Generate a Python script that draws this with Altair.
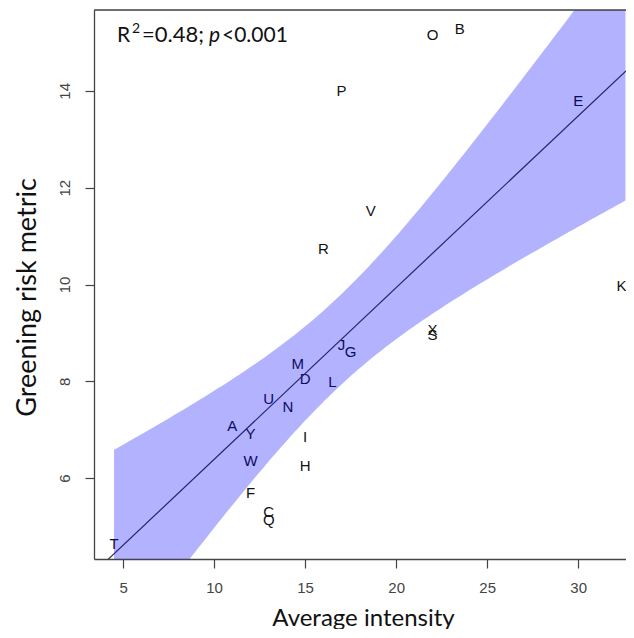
import altair as alt
import numpy as np
import pandas as pd

# ---- data ----
labels = list("OBPEVRKXSJGMDLUNAYIWHFCQT")
x_vals = [22.0, 23.5, 17.0, 30.0, 18.6, 16.0, 32.6, 22.0, 22.0, 17.0, 17.5, 14.6, 15.0,
          16.5, 13.0, 14.05, 11.0, 12.0, 15.0, 12.0, 15.0, 12.0, 13.0, 13.0, 4.5]
y_vals = [15.16, 15.28, 14.0, 13.79, 11.52, 10.74, 9.97, 9.06, 8.96, 8.75, 8.61, 8.36, 8.05,
          7.99, 7.64, 7.46, 7.08, 6.92, 6.85, 6.35, 6.25, 5.7, 5.3, 5.14, 4.65]
x_ticks = [5, 10, 15, 20, 25, 30]
y_ticks = [6, 8, 10, 12, 14]
x_domain = [3.4, 32.63]
y_domain = [4.33, 15.67]
ann_R = "R"
ann_sup = "2"
ann_eq = "=0.48;"
ann_p = "p"
ann_tail = "<0.001"

# ---- OLS fit and 95% confidence band computed from the points ----
xa = np.array(x_vals)
ya = np.array(y_vals)
n = len(xa)
xbar, ybar = xa.mean(), ya.mean()
sxx = ((xa - xbar) ** 2).sum()
slope = ((xa - xbar) * (ya - ybar)).sum() / sxx
intercept = ybar - slope * xbar
resid = ya - (intercept + slope * xa)
s = np.sqrt((resid ** 2).sum() / (n - 2))
t_crit = 2.0687  # t(0.975, df=23)

grid = np.linspace(xa.min(), xa.max(), 120)
fit = intercept + slope * grid
half = t_crit * s * np.sqrt(1.0 / n + (grid - xbar) ** 2 / sxx)
band_df = pd.DataFrame({"x": grid, "lo": fit - half, "hi": fit + half})
line_df = pd.DataFrame({"x": x_domain, "y": [intercept + slope * v for v in x_domain]})
pts_df = pd.DataFrame({"x": x_vals, "y": y_vals, "label": labels})

W, H = 532, 549
edge = x_domain[1] - 0.2  # labels closer than this to the right edge are right-aligned

xscale = alt.Scale(domain=x_domain, nice=False, zero=False)
yscale = alt.Scale(domain=y_domain, nice=False, zero=False)

xaxis = alt.Axis(values=x_ticks, tickSize=9, labelPadding=12, labelFont="Liberation Sans",
                 labelFontSize=15, labelColor="#444", tickColor="#444", tickWidth=1.2,
                 domain=True, domainColor="#444", domainWidth=1.3, grid=False,
                 title="Average intensity", titleFont="Lato",
                 titleFontSize=24, titleFontWeight="normal", titleColor="#111",
                 titleX=269, titleY=66, titleBaseline="alphabetic", titleAlign="center")
yaxis = alt.Axis(values=y_ticks, tickSize=9, labelAngle=270, labelAlign="center",
                 labelBaseline="middle", labelPadding=21, labelFont="Liberation Sans",
                 labelFontSize=15, labelColor="#444", tickColor="#444", tickWidth=1.2,
                 domain=True, domainColor="#444", domainWidth=1.3, grid=False,
                 title="Greening risk metric", titleFont="Lato",
                 titleFontSize=27, titleFontWeight="normal", titleColor="#111",
                 titleAngle=270, titleX=-80, titleY=287, titleBaseline="top",
                 titleAlign="center")

text_layer = alt.Chart(pts_df).transform_filter(
    alt.datum.x < edge
).mark_text(
    font="Liberation Sans", fontSize=15, color="#111", align="center", baseline="middle"
).encode(
    x=alt.X("x:Q", scale=xscale, axis=xaxis),
    y=alt.Y("y:Q", scale=yscale, axis=yaxis),
    text="label:N",
)

edge_text_layer = alt.Chart(pts_df).transform_filter(
    alt.datum.x >= edge
).mark_text(
    font="Liberation Sans", fontSize=15, color="#111", align="right", baseline="middle", dx=1
).encode(
    x=alt.X("x:Q", scale=xscale, axis=xaxis),
    y=alt.Y("y:Q", scale=yscale, axis=yaxis),
    text="label:N",
)

line_layer = alt.Chart(line_df).mark_line(clip=True, color="#333", strokeWidth=1.2).encode(
    x=alt.X("x:Q", scale=xscale, axis=xaxis),
    y=alt.Y("y:Q", scale=yscale, axis=yaxis),
)

band_layer = alt.Chart(band_df).mark_area(clip=True, color="#0000ff", opacity=0.3).encode(
    x=alt.X("x:Q", scale=xscale, axis=xaxis),
    y=alt.Y("lo:Q", scale=yscale, axis=yaxis),
    y2="hi:Q",
)

one = pd.DataFrame({"t": [0]})
top_rule = alt.Chart(one).mark_rule(color="#444", strokeWidth=1.3).encode(
    x=alt.value(0), x2=alt.value(W), y=alt.value(0)
)


def ann(txt, px, py, size=21, italic=False):
    kw = dict(align="left", baseline="alphabetic", font="Lato", fontSize=size,
              color="#111", text=txt)
    if italic:
        kw["fontStyle"] = "italic"
    return alt.Chart(one).mark_text(**kw).encode(x=alt.value(px), y=alt.value(py))


layers = [
    text_layer, edge_text_layer, line_layer, band_layer, top_rule,
    ann(ann_R, 23, 32),
    ann(ann_sup, 38, 23, size=14),
    ann(ann_eq, 48, 32, size=22),
    ann(ann_p, 115, 32, italic=True),
    ann(ann_tail, 128, 32),
]

chart = alt.layer(*layers).properties(
    width=W,
    height=H,
    autosize=alt.AutoSizeParams(type="none"),
    padding={"left": 86, "top": 2, "right": 0, "bottom": 70},
).configure_view(stroke=None).configure(background="white")

chart.save("out.html", embed_options={"renderer": "svg", "actions": False})
